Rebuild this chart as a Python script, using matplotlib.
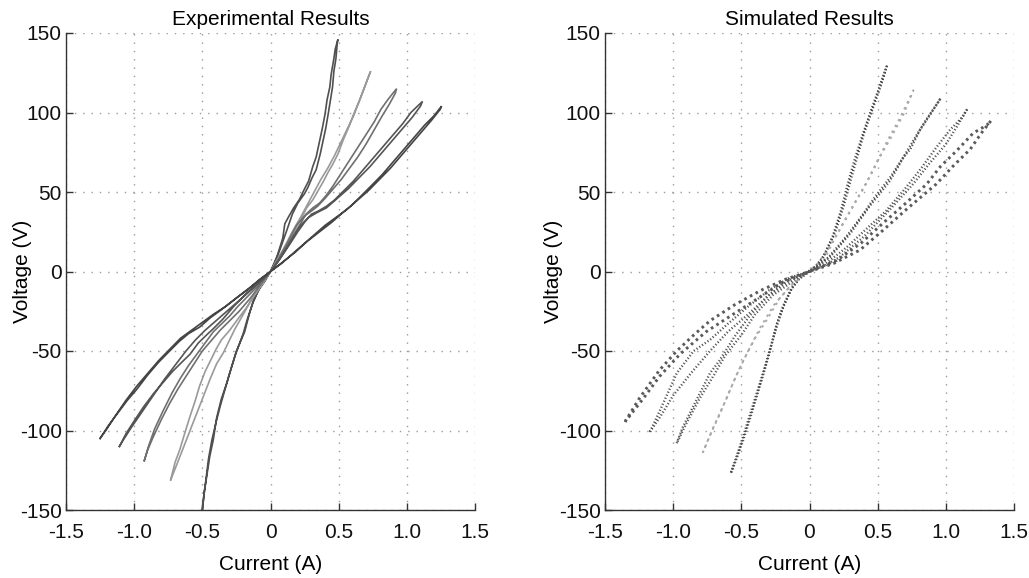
import matplotlib
matplotlib.use('Agg')
import matplotlib.pyplot as plt

plt.rcParams['font.family'] = ['Liberation Sans', 'DejaVu Sans']
plt.rcParams['font.size'] = 15
plt.rcParams['axes.unicode_minus'] = False

# axis ticks shared by both panels
XTICKS = [-1.5, -1.0, -0.5, 0, 0.5, 1.0, 1.5]
XTICK_LABELS = ['-1.5', '-1.0', '-0.5', '0', '0.5', '1.0', '1.5']
YTICKS = [-150, -100, -50, 0, 50, 100, 150]
YTICK_LABELS = ['-150', '-100', '-50', '0', '50', '100', '150']

# measured V-I loops, (current A, voltage V), out along one branch and back along the other
EXP_1 = [(-0.50, -150), (-0.485, -138), (-0.47, -130), (-0.445, -116), (-0.42, -106), (-0.395, -92),
         (-0.36, -80), (-0.32, -70), (-0.285, -60), (-0.25, -50), (-0.215, -43), (-0.19, -38),
         (-0.15, -25), (-0.125, -18), (-0.07, -9), (0, 0), (0.05, 10), (0.09, 21), (0.105, 30),
         (0.13, 34), (0.17, 40), (0.21, 45), (0.25, 52), (0.28, 57), (0.31, 66), (0.335, 72),
         (0.355, 80), (0.38, 90), (0.40, 99), (0.415, 108), (0.435, 116), (0.445, 124), (0.465, 134),
         (0.475, 140), (0.495, 146),
         (0.49, 144), (0.48, 134), (0.465, 126), (0.455, 116), (0.44, 108), (0.425, 100), (0.405, 90),
         (0.385, 82), (0.365, 74), (0.335, 64), (0.305, 59), (0.275, 53), (0.25, 49), (0.20, 43),
         (0.16, 36), (0.12, 26), (0.07, 14), (0.03, 5), (0, 0), (-0.04, -6), (-0.09, -12),
         (-0.13, -20), (-0.17, -30), (-0.20, -39), (-0.23, -46), (-0.26, -53), (-0.30, -64),
         (-0.34, -76), (-0.37, -85), (-0.40, -95), (-0.43, -106), (-0.455, -118), (-0.475, -132),
         (-0.49, -142), (-0.50, -150)]
EXP_2 = [(-0.732, -131), (-0.70, -120), (-0.665, -112), (-0.63, -102), (-0.59, -91), (-0.555, -82),
         (-0.52, -72), (-0.48, -63), (-0.44, -56), (-0.40, -49), (-0.36, -43), (-0.30, -37),
         (-0.24, -30), (-0.17, -22), (-0.08, -10), (0, 0), (0.06, 9), (0.12, 17), (0.19, 28),
         (0.23, 34), (0.265, 40), (0.31, 45), (0.35, 51), (0.39, 57), (0.42, 62), (0.46, 68),
         (0.495, 74), (0.53, 82), (0.575, 91), (0.61, 99), (0.655, 108), (0.695, 117), (0.735, 126),
         (0.725, 124), (0.69, 116), (0.65, 107), (0.61, 98), (0.565, 90), (0.52, 82), (0.47, 73),
         (0.42, 65), (0.37, 58), (0.32, 50), (0.27, 42), (0.22, 34), (0.16, 25), (0.10, 15),
         (0.04, 5), (0, 0), (-0.06, -8), (-0.13, -16), (-0.20, -27), (-0.26, -36), (-0.30, -43),
         (-0.345, -51), (-0.395, -58), (-0.44, -67), (-0.49, -78), (-0.54, -89), (-0.59, -100),
         (-0.64, -111), (-0.69, -122), (-0.732, -131)]
EXP_3 = [(-0.926, -119), (-0.895, -110), (-0.85, -99), (-0.79, -88), (-0.72, -76), (-0.66, -67),
         (-0.60, -59), (-0.54, -52), (-0.48, -45), (-0.42, -38), (-0.36, -33), (-0.30, -28),
         (-0.24, -22), (-0.16, -15), (-0.08, -8), (0, 0), (0.06, 7), (0.12, 15), (0.17, 23),
         (0.22, 30), (0.26, 36), (0.31, 40), (0.36, 43), (0.41, 48), (0.46, 54), (0.52, 62),
         (0.58, 70), (0.64, 78), (0.70, 86), (0.76, 94), (0.81, 102), (0.86, 108), (0.925, 115),
         (0.915, 112), (0.87, 105), (0.82, 98), (0.76, 89), (0.70, 80), (0.64, 72), (0.58, 65),
         (0.52, 58), (0.46, 52), (0.40, 46), (0.345, 41), (0.30, 38), (0.25, 35), (0.19, 29),
         (0.13, 19), (0.06, 8), (0, 0), (-0.07, -8), (-0.15, -17), (-0.23, -25), (-0.30, -31),
         (-0.37, -37), (-0.44, -44), (-0.50, -50), (-0.56, -58), (-0.62, -66), (-0.68, -74),
         (-0.74, -83), (-0.80, -93), (-0.86, -104), (-0.90, -112), (-0.926, -119)]
EXP_4 = [(-1.108, -110), (-1.06, -102), (-1.00, -94), (-0.93, -85), (-0.86, -77), (-0.79, -70),
         (-0.72, -63), (-0.65, -57), (-0.59, -52), (-0.53, -45), (-0.47, -40), (-0.42, -36),
         (-0.35, -30), (-0.27, -22), (-0.18, -14), (-0.09, -7), (0, 0), (0.07, 8), (0.14, 17),
         (0.20, 25), (0.25, 31), (0.30, 36), (0.35, 38), (0.41, 41), (0.47, 45), (0.54, 51),
         (0.61, 57), (0.68, 64), (0.75, 71), (0.83, 79), (0.90, 86), (0.97, 93), (1.03, 100),
         (1.115, 107),
         (1.10, 104), (1.04, 97), (0.97, 90), (0.89, 82), (0.81, 74), (0.73, 66), (0.65, 59),
         (0.57, 52), (0.49, 46), (0.41, 40), (0.34, 37), (0.28, 34), (0.22, 29), (0.16, 21),
         (0.09, 11), (0.03, 3), (0, 0), (-0.08, -7), (-0.16, -13), (-0.24, -19), (-0.32, -25),
         (-0.40, -31), (-0.48, -37), (-0.55, -43), (-0.62, -50), (-0.70, -59), (-0.78, -68),
         (-0.86, -78), (-0.94, -88), (-1.02, -98), (-1.08, -106), (-1.108, -110)]
EXP_5 = [(-1.25, -105), (-1.19, -97), (-1.12, -89), (-1.05, -81), (-0.98, -74), (-0.90, -65),
         (-0.82, -57), (-0.74, -50), (-0.67, -44), (-0.60, -39), (-0.52, -35), (-0.44, -29),
         (-0.36, -24), (-0.27, -18), (-0.18, -12), (-0.09, -6), (0, 0), (0.09, 6), (0.18, 12),
         (0.27, 19), (0.36, 25), (0.45, 31), (0.53, 37), (0.60, 42), (0.67, 48), (0.74, 54),
         (0.82, 61), (0.90, 69), (0.98, 77), (1.06, 85), (1.13, 92), (1.20, 98), (1.255, 104),
         (1.245, 102), (1.18, 95), (1.11, 88), (1.04, 81), (0.96, 73), (0.88, 65), (0.80, 58),
         (0.72, 51), (0.64, 45), (0.56, 39), (0.48, 34), (0.40, 29), (0.32, 23), (0.24, 17),
         (0.16, 11), (0.08, 5), (0, 0), (-0.08, -5), (-0.16, -11), (-0.24, -16), (-0.33, -22),
         (-0.42, -27), (-0.50, -32), (-0.58, -37), (-0.66, -42), (-0.74, -49), (-0.82, -56),
         (-0.90, -64), (-0.98, -72), (-1.06, -81), (-1.14, -91), (-1.20, -99), (-1.25, -105)]

# model output loops, same layout
SIM_A = [(-0.576, -126.6), (-0.51, -110), (-0.44, -91), (-0.37, -72), (-0.31, -55), (-0.25, -37),
         (-0.20, -24), (-0.14, -12), (-0.08, -5), (0, 0), (0.06, 4), (0.12, 12), (0.19, 25),
         (0.25, 41), (0.30, 57), (0.35, 72), (0.40, 87), (0.47, 104), (0.52, 116), (0.566, 129),
         (0.55, 125), (0.50, 113), (0.45, 101), (0.39, 86), (0.33, 70), (0.28, 55), (0.23, 38),
         (0.17, 22), (0.10, 9), (0.03, 2), (-0.05, -2), (-0.12, -9), (-0.19, -21), (-0.24, -33),
         (-0.29, -50), (-0.35, -68), (-0.42, -88), (-0.49, -107), (-0.55, -121), (-0.576, -126.6)]
SIM_B = [(-0.783, -114), (-0.70, -97), (-0.63, -84), (-0.55, -68), (-0.48, -55), (-0.40, -42),
         (-0.31, -30), (-0.22, -17), (-0.12, -7), (0, 0), (0.10, 6), (0.18, 20), (0.25, 31),
         (0.31, 40), (0.42, 56), (0.50, 70), (0.59, 83), (0.69, 99), (0.762, 114),
         (0.74, 110), (0.66, 96), (0.57, 82), (0.47, 64), (0.38, 50), (0.30, 38), (0.22, 26),
         (0.15, 16), (0.06, 5), (-0.05, -3), (-0.15, -10), (-0.26, -21), (-0.36, -35), (-0.45, -50),
         (-0.53, -64), (-0.60, -78), (-0.66, -90), (-0.74, -105), (-0.783, -114)]
SIM_C = [(-0.974, -108), (-0.93, -98), (-0.83, -81), (-0.73, -64), (-0.66, -56), (-0.55, -41),
         (-0.44, -28), (-0.30, -15), (-0.15, -5), (0, 0), (0.15, 9), (0.30, 24), (0.44, 41),
         (0.59, 57), (0.69, 72), (0.74, 77), (0.81, 89), (0.88, 98), (0.962, 109),
         (0.94, 106), (0.86, 96), (0.78, 85), (0.69, 72), (0.59, 59), (0.49, 48), (0.40, 37),
         (0.28, 23), (0.14, 9), (0.02, 1), (-0.12, -6), (-0.27, -15), (-0.40, -27), (-0.50, -40),
         (-0.62, -53), (-0.70, -65), (-0.80, -79), (-0.90, -95), (-0.974, -108)]
SIM_D = [(-1.17, -100.8), (-1.10, -88), (-0.974, -64), (-0.85, -50), (-0.73, -43), (-0.60, -33),
         (-0.45, -22), (-0.30, -12), (-0.15, -4), (0, 0), (0.12, 4), (0.22, 9), (0.40, 22),
         (0.59, 39), (0.76, 55), (0.88, 68), (1.00, 80), (1.08, 91), (1.153, 101.6),
         (1.12, 97), (1.03, 89), (0.93, 78), (0.82, 65), (0.70, 52), (0.56, 38), (0.42, 27),
         (0.27, 15), (0.12, 5), (0, 0), (-0.15, -6), (-0.30, -15), (-0.45, -27), (-0.60, -38),
         (-0.73, -50), (-0.87, -64), (-1.00, -78), (-1.10, -92), (-1.17, -100.8)]
SIM_E = [(-1.353, -94.5), (-1.25, -80), (-1.10, -62), (-0.974, -50), (-0.85, -40), (-0.73, -31),
         (-0.55, -21), (-0.36, -12), (-0.18, -5), (0, 0), (0.175, 5), (0.37, 13.5), (0.54, 26),
         (0.71, 39), (0.93, 55), (1.05, 66), (1.18, 77), (1.26, 87), (1.331, 94.8),
         (1.30, 92), (1.20, 87), (1.08, 76), (0.96, 66), (0.86, 55), (0.72, 44), (0.56, 32),
         (0.38, 18), (0.20, 7), (0, 0), (-0.20, -7), (-0.38, -17), (-0.58, -28), (-0.76, -38),
         (-0.95, -52), (-1.10, -66), (-1.22, -80), (-1.353, -94.5)]

EXP_COLORS = ['#505050', '#9a9a9a', '#707070', '#555555', '#454545']
# (colour, dash pattern, width) for each simulated loop
SIM_STYLES = [('#4d4d4d', (0, (0.5, 0.9)), 1.7),
              ('#ababab', (0, (1.2, 2.2)), 1.4),
              ('#555555', (0, (0.5, 0.9)), 1.7),
              ('#555555', (0, (0.5, 0.9)), 1.7),
              ('#5a5a5a', (0, (0.9, 1.3)), 2.1)]


def style_axes(ax, title, ylabel_x):
    ax.set_xlim(-1.5, 1.5)
    ax.set_ylim(-150, 150)
    ax.set_xticks(XTICKS)
    ax.set_xticklabels(XTICK_LABELS)
    ax.set_yticks(YTICKS)
    ax.set_yticklabels(YTICK_LABELS)
    ax.grid(True, color='#9a9a9a', linestyle=(0, (1, 5)), linewidth=1.0)
    ax.set_axisbelow(True)
    for side in ['top', 'right']:
        ax.spines[side].set_visible(False)
    for side in ['left', 'bottom']:
        ax.spines[side].set_color('#333333')
        ax.spines[side].set_linewidth(1.0)
    ax.tick_params(direction='in', length=5, width=1, color='#333333', labelcolor='#111111')
    ax.tick_params(axis='x', pad=9)
    ax.tick_params(axis='y', pad=3)
    ax.set_title(title, fontsize=15, pad=6)
    ax.set_xlabel('Current (A)', labelpad=10)
    ax.set_ylabel('Voltage (V)')
    ax.yaxis.set_label_coords(ylabel_x, 0.5)


fig = plt.figure(figsize=(10.29, 5.78), dpi=100)
ax1 = fig.add_axes([66 / 1029, 68 / 578, 409 / 1029, 477 / 578])
ax2 = fig.add_axes([605 / 1029, 68 / 578, 409 / 1029, 477 / 578])

for loop, color in zip([EXP_1, EXP_2, EXP_3, EXP_4, EXP_5], EXP_COLORS):
    cur, volt = zip(*loop)
    ax1.plot(cur, volt, color=color, linewidth=1.2, solid_joinstyle='miter')

for loop, (color, ls, lw) in zip([SIM_A, SIM_B, SIM_C, SIM_D, SIM_E], SIM_STYLES):
    cur, volt = zip(*loop)
    ax2.plot(cur, volt, color=color, linestyle=ls, linewidth=lw)

style_axes(ax1, 'Experimental Results', -0.083)
style_axes(ax2, 'Simulated Results', -0.103)

fig.savefig('out.png', dpi=100)
